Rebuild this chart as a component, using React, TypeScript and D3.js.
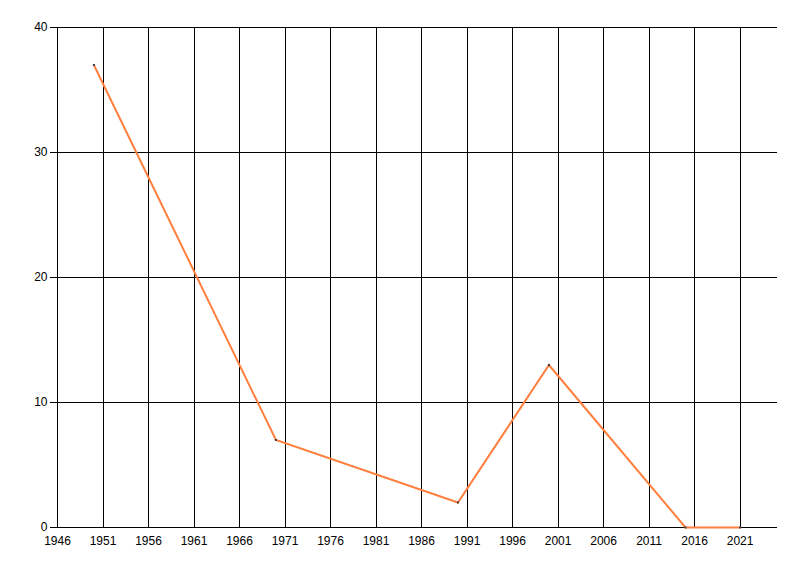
import React from "react";
import * as d3 from "d3";

const years = [1950, 1970, 1990, 2000, 2015, 2021];
const values = [37, 7, 2, 13, 0, 0];
const xTicks = [1946, 1951, 1956, 1961, 1966, 1971, 1976, 1981, 1986, 1991, 1996, 2001, 2006, 2011, 2016, 2021];
const yTicks = [0, 10, 20, 30, 40];

export default function App() {
  const W = 800, H = 576;
  const left = 57.5, right = 776.5, top = 27.5, bottom = 527.5;
  const x = d3.scaleLinear().domain([1946, 2025]).range([left, right]);
  const y = d3.scaleLinear().domain([0, 40]).range([bottom, top]);
  const pts = years.map((yr, i) => [yr, values[i]] as [number, number]);
  const line = d3.line<[number, number]>().x(d => x(d[0])).y(d => y(d[1]));
  const font = "'Liberation Sans', Arial, sans-serif";
  const cx = (v: number) => Math.floor(x(v)) + 0.5;
  const cy = (v: number) => Math.floor(y(v)) + 0.5;
  return (
    <svg width={W} height={H} style={{ position: "absolute", left: 0, top: 0, background: "#fff" }}>
      {xTicks.map(t => (
        <line key={"vx" + t} x1={cx(t)} x2={cx(t)} y1={top} y2={bottom} stroke="#000" strokeWidth={1} shapeRendering="crispEdges" />
      ))}
      {yTicks.map(t => (
        <line key={"hy" + t} x1={left - 8} x2={right} y1={cy(t)} y2={cy(t)} stroke="#000" strokeWidth={1} shapeRendering="crispEdges" />
      ))}
      {yTicks.map(t => (
        <text key={"ty" + t} x={left - 10} y={y(t) - 0.5} dy="0.35em" textAnchor="end" fontFamily={font} fontSize={12} fill="#000">{t}</text>
      ))}
      {xTicks.map(t => (
        <text key={"tx" + t} x={x(t)} y={545} textAnchor="middle" fontFamily={font} fontSize={12} fill="#000">{t}</text>
      ))}
      <path d={line(pts) || ""} fill="none" stroke="#FF7F3F" strokeWidth={2} strokeLinejoin="miter" />
      {pts.map((p, i) => (
        <rect key={"m" + i} x={x(p[0]) - 1} y={y(p[1]) - 1} width={2} height={2} fill="#404040" />
      ))}
    </svg>
  );
}
